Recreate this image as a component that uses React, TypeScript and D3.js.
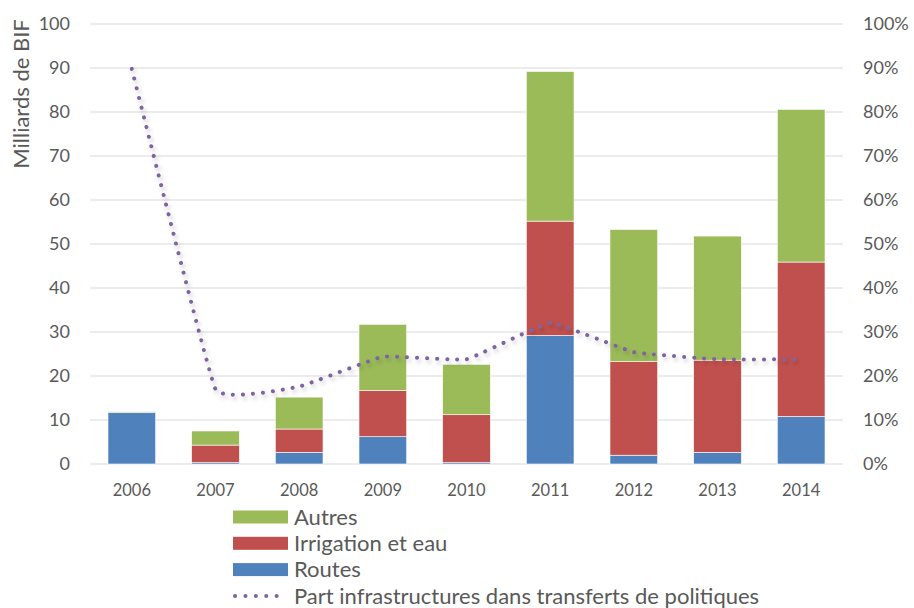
import React from "react";
import * as d3 from "d3";

const years = ["2006", "2007", "2008", "2009", "2010", "2011", "2012", "2013", "2014"];
const routes = [11.7, 0.3, 2.65, 6.2, 0.3, 29.2, 2.0, 2.65, 10.8];
const irrigation = [0, 4.0, 5.3, 10.55, 10.9, 26.0, 21.25, 20.95, 35.1];
const autres = [0.2, 3.2, 7.25, 15.0, 11.45, 34.0, 30.05, 28.2, 34.7];
const partInfra = [0.898, 0.17, 0.176, 0.244, 0.238, 0.321, 0.254, 0.238, 0.238];
const leftTicks = [0, 10, 20, 30, 40, 50, 60, 70, 80, 90, 100];
const rightTicks = [0, 0.1, 0.2, 0.3, 0.4, 0.5, 0.6, 0.7, 0.8, 0.9, 1.0];

const seriesNames = ["Routes", "Irrigation et eau", "Autres"];
const colors = ["#4F81BD", "#C0504D", "#9BBB59"];
const lineName = "Part infrastructures dans transferts de politiques";
const lineColor = "#8064A2";

export default function App() {
  const W = 914, H = 608;
  const x0 = 90, x1 = 843, yTop = 24, yBot = 464;
  const x = d3.scaleBand().domain(years).range([x0, x1]).paddingInner(0.43).paddingOuter(0.215);
  const y = d3.scaleLinear().domain([0, 100]).range([yBot, yTop]);
  const yr = d3.scaleLinear().domain([0, 1]).range([yBot, yTop]);

  const table = years.map((yr_, i) => ({ year: yr_, Routes: routes[i], "Irrigation et eau": irrigation[i], Autres: autres[i] }));
  const stacked = d3.stack<any>().keys(seriesNames)(table);

  const line = d3
    .line<number>()
    .x((_, i) => (x(years[i]) as number) + x.bandwidth() / 2)
    .y((d) => yr(d))
    .curve(d3.curveCardinal.tension(0.75));

  const font = "Lato, 'Open Sans', sans-serif";
  const tickColor = "#595959";

  const legendItems = [
    { name: "Autres", color: colors[2] },
    { name: "Irrigation et eau", color: colors[1] },
    { name: "Routes", color: colors[0] },
  ];

  return (
    <svg width={W} height={H} style={{ position: "absolute", left: 0, top: 0 }} fontFamily={font}>
      <defs>
        <filter id="sh" x="-10%" y="-10%" width="120%" height="130%">
          <feDropShadow dx="2" dy="3" stdDeviation="2" floodColor="#000" floodOpacity="0.22" />
        </filter>
      </defs>
      <rect width={W} height={H} fill="#fff" />
      {leftTicks.map((t) => (
        <line key={t} x1={x0} x2={x1} y1={y(t)} y2={y(t)} stroke="#d9d9d9" strokeWidth={1} />
      ))}
      {leftTicks.map((t) => (
        <text key={"l" + t} x={70} y={y(t)} dy="0.35em" textAnchor="end" fontSize={18} fill={tickColor}>
          {t}
        </text>
      ))}
      {rightTicks.map((t) => (
        <text key={"r" + t} x={863} y={yr(t)} dy="0.35em" textAnchor="start" fontSize={18} fill={tickColor}>
          {d3.format(".0%")(t)}
        </text>
      ))}
      {years.map((yy) => (
        <text key={yy} x={(x(yy) as number) + x.bandwidth() / 2} y={490} dy="0.35em" textAnchor="middle" fontSize={16.5} fill={tickColor}>
          {yy}
        </text>
      ))}
      <text transform={`translate(29,94) rotate(-90)`} textAnchor="middle" fontSize={22} fill={tickColor}>
        Milliards de BIF
      </text>
      {stacked.map((s, si) => (
        <g key={s.key} fill={colors[si]}>
          {s.map((d, i) => (
            <rect
              key={i}
              x={x(years[i])}
              width={x.bandwidth()}
              y={y(d[1])}
              height={Math.max(0, y(d[0]) - y(d[1]))}
              stroke="#fff"
              strokeWidth={0.6}
            />
          ))}
        </g>
      ))}
      <path
        d={line(partInfra) || ""}
        fill="none"
        stroke={lineColor}
        strokeWidth={4}
        strokeLinecap="round"
        strokeDasharray="0.1 9.9"
        filter="url(#sh)"
      />
      {legendItems.map((it, i) => (
        <g key={it.name} transform={`translate(233,${517 + i * 26.3})`}>
          <rect x={0} y={-6.5} width={55} height={13} fill={it.color} />
          <text x={61} y={0} dy="0.35em" fontSize={22} fill="#595959">
            {it.name}
          </text>
        </g>
      ))}
      <g transform={`translate(233,${517 + 3 * 26.3})`}>
        <line x1={2} x2={54} y1={0} y2={0} stroke={lineColor} strokeWidth={4} strokeLinecap="round" strokeDasharray="0.1 10.3" />
        <text x={61} y={0} dy="0.35em" fontSize={22} fill="#595959">
          {lineName}
        </text>
      </g>
    </svg>
  );
}
